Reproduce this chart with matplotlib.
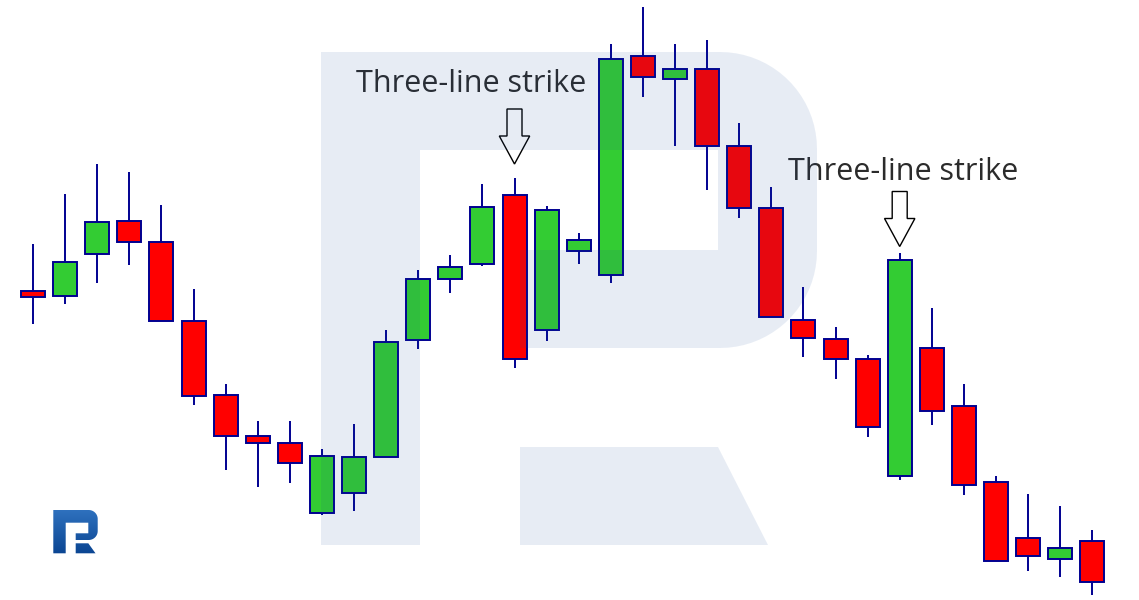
import numpy as np
import matplotlib
matplotlib.use("Agg")
import matplotlib.pyplot as plt
from matplotlib.path import Path
from matplotlib.patches import PathPatch, Polygon
from matplotlib.colors import LinearSegmentedColormap
import matplotlib.transforms as mtransforms

# ---- data (price levels) ----
opens  = [309, 304, 346, 379, 358, 279, 205, 164, 157, 87, 107, 143, 260, 321, 336, 405, 270,
          349, 325, 544, 521, 531, 454, 392, 280, 261, 241, 124, 252, 194, 118, 62, 41, 59]
highs  = [356, 406, 436, 428, 395, 311, 216, 179, 179, 151, 176, 270, 330, 345, 416, 422, 394,
          367, 556, 593, 556, 560, 477, 413, 313, 273, 245, 347, 292, 216, 124, 106, 94, 70]
lows   = [276, 296, 317, 335, 279, 195, 130, 113, 117, 85, 89, 143, 251, 307, 334, 232, 259,
          336, 317, 503, 454, 410, 382, 283, 243, 221, 163, 120, 175, 105, 39, 29, 23, 5]
closes = [303, 338, 378, 358, 279, 204, 164, 157, 137, 144, 143, 258, 321, 333, 393, 241, 390,
          360, 541, 523, 531, 454, 392, 283, 262, 241, 173, 340, 189, 115, 39, 44, 52, 18]

annot_labels = ["Three-line strike", "Three-line strike"]
annot_candle = [15, 27]

# ---- style ----
UP = "#33CC33"
DOWN = "#FF0000"
EDGE = "#000090"
TEXT = "#2b2b2b"

W, H, DPI = 1139, 600, 100
fig = plt.figure(figsize=(W / DPI, H / DPI), dpi=DPI)
fig.patch.set_facecolor("white")
ax = fig.add_axes([0, 0, 1, 1])
ax.axis("off")

step_px = 32.1
first_px = 33.0
ax.set_xlim(-first_px / step_px, (W - first_px) / step_px)
ax.set_ylim(0, 600)

x = np.arange(len(opens))
o = np.array(opens, float)
h = np.array(highs, float)
l = np.array(lows, float)
c = np.array(closes, float)
up = c >= o
colors = [UP if u else DOWN for u in up]

ax.vlines(x, l, h, color=EDGE, linewidth=1.4, zorder=2)
ax.bar(x, np.abs(c - o), bottom=np.minimum(o, c), width=24 / step_px,
       color=colors, edgecolor=EDGE, linewidth=1.4, zorder=3)

# ---- annotations: hollow block arrows + labels ----
tip_gap = [14, 6.5]
text_off = [(-159, 72), (-112, 67)]
arrow_verts = np.array([(0, 0), (15.2, 28), (7.5, 28), (7.5, 55), (-7.5, 55),
                        (-7.5, 28), (-15.2, 28)])
for lab, idx, gap, (dx, dy) in zip(annot_labels, annot_candle, tip_gap, text_off):
    ytip = h[idx] + gap
    trans = mtransforms.Affine2D() + mtransforms.ScaledTranslation(idx, ytip, ax.transData)
    ax.add_patch(Polygon(arrow_verts, closed=True, facecolor="none", edgecolor="black",
                         linewidth=1.0, transform=trans, zorder=4))
    ax.annotate(lab, xy=(idx, ytip), xytext=(dx, dy), textcoords="offset pixels",
                ha="left", va="baseline", fontsize=22, color=TEXT,
                family=["Open Sans", "DejaVu Sans"], zorder=4)


# ---- decorative watermark + logo (pixel space overlay) ----
def r_shape(x0, x1, y0, y1, stem_r, bar_b, counter_r, counter_b, bowl_b,
            gap_l, leg_t, leg_tr, leg_br, rad):
    t1 = np.linspace(-np.pi / 2, 0, 20)
    t2 = np.linspace(0, np.pi / 2, 20)
    cx = x1 - rad
    arc1 = np.column_stack([cx + rad * np.cos(t1), y0 + rad + rad * np.sin(t1)])
    arc2 = np.column_stack([cx + rad * np.cos(t2), bowl_b - rad + rad * np.sin(t2)])
    body = np.vstack([[(x0, y0)], arc1, arc2,
                      [(gap_l, bowl_b), (gap_l, counter_b), (counter_r, counter_b),
                       (counter_r, bar_b), (stem_r, bar_b), (stem_r, y1), (x0, y1), (x0, y0)]])
    leg = np.array([(gap_l, leg_t), (leg_tr, leg_t), (leg_br, y1), (gap_l, y1), (gap_l, leg_t)])
    p1 = Path(body, closed=True)
    p2 = Path(leg, closed=True)
    return Path.make_compound_path(p1, p2)


ov = fig.add_axes([0, 0, 1, 1], zorder=5)
ov.set_xlim(0, W)
ov.set_ylim(H, 0)
ov.axis("off")

wm = r_shape(321, 817, 52, 545, 420, 150, 718, 250, 348, 520, 447, 718, 768, 97)
ov.add_patch(PathPatch(wm, facecolor=(25 / 255, 75 / 255, 155 / 255), alpha=0.1,
                       edgecolor="none"))

logo = r_shape(53.3, 97.7, 510, 553.3, 65.7, 522.7, 88.3, 533.3, 540, 75.7, 543.3, 88.3, 95.5, 9)
logo_patch = PathPatch(logo, facecolor="none", edgecolor="none")
ov.add_patch(logo_patch)
cmap = LinearSegmentedColormap.from_list("logo", ["#2f72bf", "#0b4592"])
grad = np.linspace(0, 1, 64).reshape(-1, 1)
im = ov.imshow(grad, cmap=cmap, extent=[53, 98, 554, 509], aspect="auto",
               interpolation="bilinear", zorder=6)
im.set_clip_path(logo_patch)
ov.set_xlim(0, W)
ov.set_ylim(H, 0)

fig.savefig("out.png", dpi=DPI, facecolor="white")
